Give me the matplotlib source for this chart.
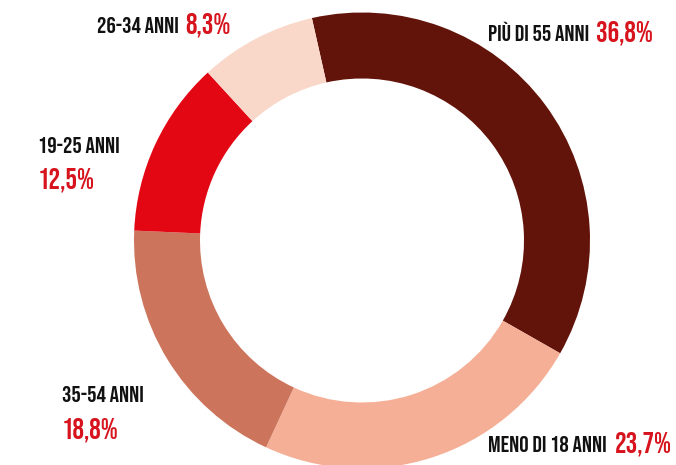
import matplotlib
matplotlib.use("Agg")
import matplotlib.pyplot as plt

categories = ["PIÙ DI 55 ANNI", "MENO DI 18 ANNI", "35-54 ANNI", "19-25 ANNI", "26-34 ANNI"]
values = [36.8, 23.7, 18.8, 12.5, 8.3]
value_labels = ["36,8%", "23,7%", "18,8%", "12,5%", "8,3%"]
colors = ["#63140A", "#F5AF96", "#CC755C", "#E30613", "#F9D8CA"]

W, H = 676, 465
fig = plt.figure(figsize=(W / 100, H / 100), dpi=100)
ax = fig.add_axes([0, 0, 1, 1])

ax.pie(values, colors=colors, startangle=102.7, counterclock=False,
       center=(362, H - 240.5), radius=228,
       wedgeprops=dict(width=228 - 162, linewidth=0), frame=True)
ax.set_xlim(0, W)
ax.set_ylim(0, H)
ax.set_axis_off()

fam = ["Bebas Neue", "DejaVu Sans"]
black_kw = dict(family=fam, color="#111111", fontsize=16.8, va="baseline", ha="left")
red_kw = dict(family=fam, color="#D7141E", fontsize=20.8, va="baseline", ha="left")

# label positions (pixel coords, top-left origin): (name_x, name_baseline_y, val_x, val_baseline_y)
pos = {
    "PIÙ DI 55 ANNI": (488, 41, 596, 42),
    "MENO DI 18 ANNI": (488, 452, 615, 453),
    "35-54 ANNI": (62, 402, 62, 438),
    "19-25 ANNI": (38, 153, 38, 188),
    "26-34 ANNI": (97, 33, 185, 34),
}
for cat, vl in zip(categories, value_labels):
    nx, ny, vx, vy = pos[cat]
    ax.text(nx, H - ny, cat, **black_kw)
    ax.text(vx, H - vy, vl, **red_kw)

fig.savefig("out.png", dpi=100, facecolor="white")
